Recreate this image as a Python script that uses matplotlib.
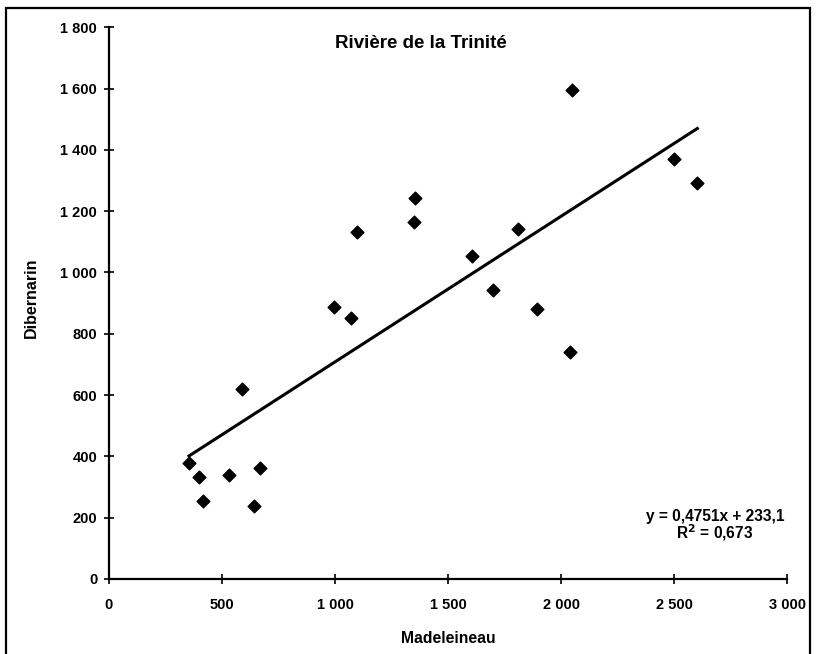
import numpy as np
import matplotlib
matplotlib.use("Agg")
import matplotlib.pyplot as plt
from matplotlib.patches import Rectangle
from matplotlib.ticker import FuncFormatter

# Débits
madeleineau = [587, 354, 400, 531, 670, 415, 640,
               1354, 1351, 1097, 1605, 996, 1071,
               2049, 1808, 1699, 1895, 2040, 2499, 2603]
dibernarin = [620, 380, 332, 339, 363, 254, 238,
              1244, 1165, 1131, 1054, 889, 851,
              1595, 1143, 942, 881, 742, 1371, 1291]

pente = 0.4751
ordonnee = 233.1
r2 = 0.673

plt.rcParams['font.family'] = ['Liberation Sans', 'DejaVu Sans']
plt.rcParams['font.weight'] = 'bold'

fig = plt.figure(figsize=(8.2, 6.54), dpi=100)
ax = fig.add_axes([0.1329, 0.1147, 0.8269, 0.8436])

ax.scatter(madeleineau, dibernarin, marker='D', s=42, color='black', zorder=3)

# droite de tendance
xs = np.array([min(madeleineau), max(madeleineau)])
ax.plot(xs, pente * xs + ordonnee, color='black', lw=2.2)

ax.set_xlim(0, 3000)
ax.set_ylim(0, 1800)
ax.set_xticks(np.arange(0, 3001, 500))
ax.set_yticks(np.arange(0, 1801, 200))

def milliers(v, pos):
    return f"{int(v):,}".replace(",", " ")

ax.xaxis.set_major_formatter(FuncFormatter(milliers))
ax.yaxis.set_major_formatter(FuncFormatter(milliers))

for s in ['top', 'right']:
    ax.spines[s].set_visible(False)
for s in ['left', 'bottom']:
    ax.spines[s].set_linewidth(1.6)

ax.tick_params(axis='both', direction='inout', length=7, width=1.2,
               labelsize=10.5, colors='black')
ax.tick_params(axis='x', pad=10)
ax.tick_params(axis='y', pad=5)
for lab in ax.get_xticklabels() + ax.get_yticklabels():
    lab.set_fontweight('bold')

ax.set_xlabel('Madeleineau', fontsize=11.3, fontweight='bold', labelpad=14)
ax.set_ylabel('Dibernarin', fontsize=11.5, fontweight='bold', labelpad=12)
ax.yaxis.set_label_coords(-0.104, 0.51)

fig.text(421 / 820, 1 - 44 / 654, 'Rivière de la Trinité', ha='center', va='center',
         fontsize=13.5, fontweight='bold')

fig.text(715 / 820, 1 - 516 / 654, f"y = {pente}x + {ordonnee}".replace('.', ','),
         ha='center', va='center', fontsize=11.2, fontweight='bold')
fig.text(715 / 820, 1 - 533 / 654, f"R$^2$ = {r2}".replace('.', ','),
         ha='center', va='center', fontsize=11.2, fontweight='bold')

# cadre autour du graphique
fig.patches.append(Rectangle((6 / 820, -0.01), 804 / 820, 1 - 8 / 654 + 0.01,
                             transform=fig.transFigure, fill=False,
                             edgecolor='black', lw=1.6))

fig.savefig('out.png', dpi=100)
